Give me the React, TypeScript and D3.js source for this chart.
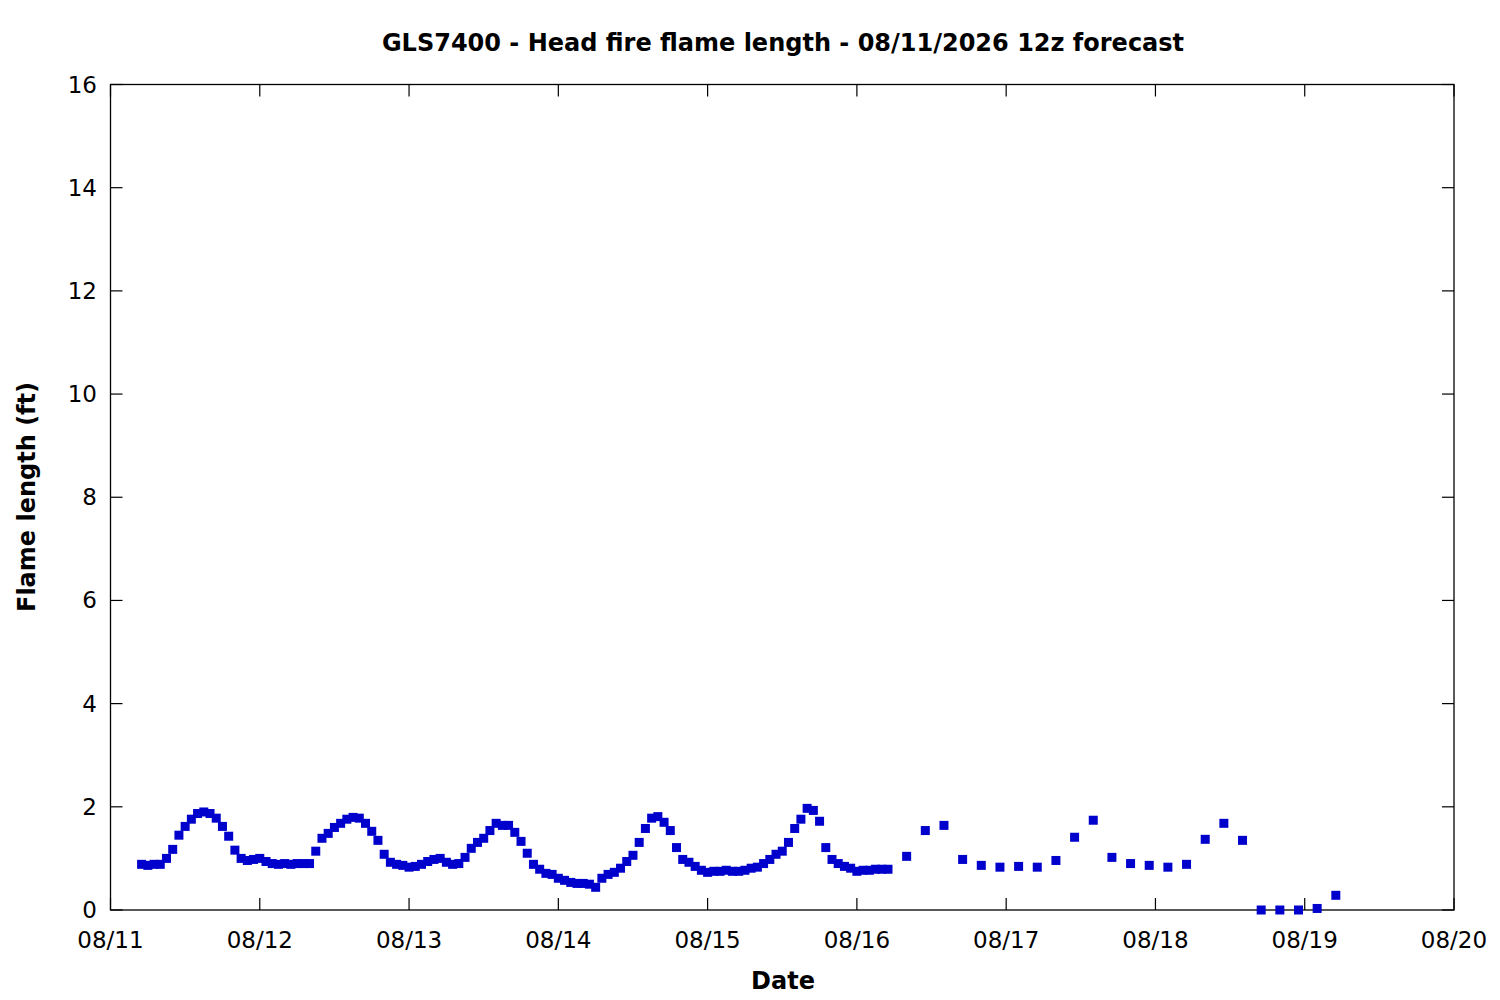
import React from "react";
import * as d3 from "d3";

const title = "GLS7400 - Head fire flame length - 08/11/2026 12z forecast";
const xLabel = "Date";
const yLabel = "Flame length (ft)";

// hourly forecast values starting 08/11 05:00
const hourlyStart = "2026-08-11T05:00:00Z";
const hourlyValues = [
  0.885, 0.865, 0.885, 0.885, 1.0, 1.175, 1.45, 1.62, 1.76, 1.87, 1.9, 1.87, 1.78, 1.62, 1.43, 1.16, 1.0, 0.96, 0.98,
  1.0, 0.94, 0.9, 0.885, 0.9, 0.885, 0.9, 0.9, 0.9, 1.14, 1.39, 1.485, 1.6, 1.68, 1.76, 1.795, 1.78, 1.68, 1.525,
  1.35, 1.08, 0.925, 0.885, 0.865,
  0.83, 0.845, 0.885, 0.94, 0.98, 1.0, 0.925, 0.885, 0.9, 1.02, 1.195, 1.31, 1.39, 1.54, 1.68, 1.64, 1.64, 1.505,
  1.33, 1.1, 0.885, 0.79, 0.71, 0.69,
  0.615, 0.575, 0.535, 0.515, 0.515, 0.5, 0.44, 0.615, 0.69, 0.73, 0.81, 0.94, 1.06, 1.31, 1.58, 1.78, 1.81, 1.7,
  1.54, 1.21, 0.98, 0.925, 0.845, 0.77,
  0.73, 0.75, 0.75, 0.77, 0.75, 0.75, 0.77, 0.81, 0.83, 0.9, 0.98, 1.08, 1.14, 1.31, 1.58, 1.76, 1.97, 1.93, 1.72,
  1.21, 0.98, 0.9, 0.845, 0.81,
  0.75, 0.77, 0.77, 0.79, 0.79, 0.79,
];

// 3-hourly forecast values starting 08/16 08:00
const threeHourlyStart = "2026-08-16T08:00:00Z";
const threeHourlyValues = [
  1.04, 1.54, 1.64, 0.98, 0.865, 0.83, 0.845, 0.83, 0.96, 1.41, 1.74, 1.02, 0.9, 0.865, 0.83, 0.885, 1.37, 1.68,
  1.35, 0, 0, 0, 0.03, 0.285,
];

const xDomain = ["2026-08-11T00:00:00Z", "2026-08-20T00:00:00Z"];
const yTicks = [0, 2, 4, 6, 8, 10, 12, 14, 16];

const W = 1500;
const H = 1000;
const M = { left: 110.5, right: 1454, top: 84.5, bottom: 910 };
const FONT = "DejaVu Sans, sans-serif";

export default function App() {
  const HOUR = 3600 * 1000;
  const t0 = new Date(hourlyStart).getTime();
  const t1 = new Date(threeHourlyStart).getTime();
  const points = [
    ...hourlyValues.map((v, i) => ({ t: new Date(t0 + i * HOUR), v })),
    ...threeHourlyValues.map((v, i) => ({ t: new Date(t1 + i * 3 * HOUR), v })),
  ];

  const x = d3
    .scaleUtc()
    .domain(xDomain.map((d) => new Date(d)))
    .range([M.left, M.right]);
  const y = d3.scaleLinear().domain([0, 16]).range([M.bottom, M.top]);
  const xTicks = d3.utcDay.range(new Date(xDomain[0]), new Date(new Date(xDomain[1]).getTime() + 1));
  const fmt = d3.utcFormat("%m/%d");
  const tickLen = 12;
  const ms = 9;

  return (
    <svg width={W} height={H} style={{ position: "absolute", left: 0, top: 0, background: "#fff" }}>
      <rect x={0} y={0} width={W} height={H} fill="#fff" />
      <text x={783} y={51} textAnchor="middle" fontFamily={FONT} fontWeight="bold" fontSize={24}>
        {title}
      </text>
      {/* y ticks */}
      {yTicks.map((t) => (
        <g key={"y" + t}>
          <line x1={M.left} x2={M.left + tickLen} y1={y(t)} y2={y(t)} stroke="#000" strokeWidth={1.2} />
          <line x1={M.right} x2={M.right - tickLen} y1={y(t)} y2={y(t)} stroke="#000" strokeWidth={1.2} />
          <text x={97} y={y(t) + 8} textAnchor="end" fontFamily={FONT} fontSize={23}>
            {t}
          </text>
        </g>
      ))}
      {/* x ticks */}
      {xTicks.map((d) => (
        <g key={"x" + d.getTime()}>
          <line x1={x(d)} x2={x(d)} y1={M.bottom} y2={M.bottom - tickLen} stroke="#000" strokeWidth={1.2} />
          <line x1={x(d)} x2={x(d)} y1={M.top} y2={M.top + tickLen} stroke="#000" strokeWidth={1.2} />
          <text x={x(d)} y={948} textAnchor="middle" fontFamily={FONT} fontSize={23}>
            {fmt(d)}
          </text>
        </g>
      ))}
      <rect
        x={M.left}
        y={M.top}
        width={M.right - M.left}
        height={M.bottom - M.top}
        fill="none"
        stroke="#000"
        strokeWidth={1.3}
      />
      {points.map((p, i) => (
        <rect key={i} x={x(p.t) - ms / 2} y={y(p.v) - ms / 2} width={ms} height={ms} fill="#0000cc" />
      ))}
      <text x={783} y={989} textAnchor="middle" fontFamily={FONT} fontWeight="bold" fontSize={24}>
        {xLabel}
      </text>
      <text
        transform={`translate(35,497) rotate(-90)`}
        textAnchor="middle"
        fontFamily={FONT}
        fontWeight="bold"
        fontSize={24}
      >
        {yLabel}
      </text>
    </svg>
  );
}
